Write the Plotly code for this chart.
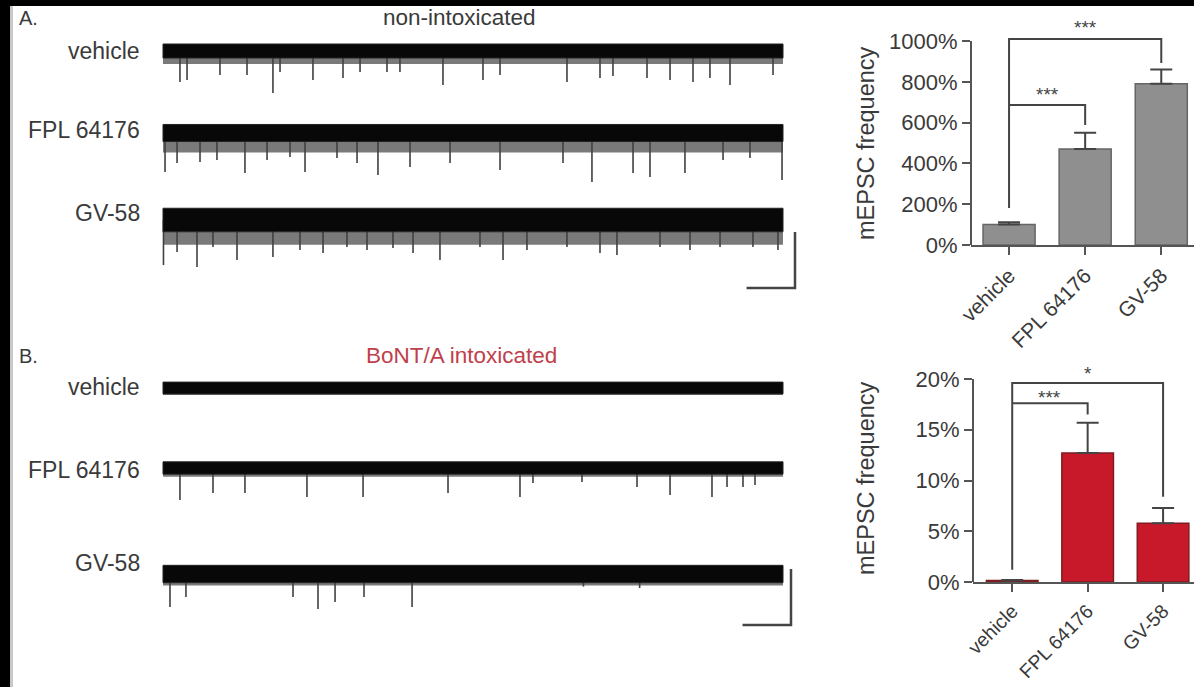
import plotly.graph_objects as go

W, H = 1194, 687

TRACE_NAMES = ["vehicle", "FPL 64176", "GV-58"]
T_END = 64          # s of recording shown per trace
SCALE_S = 5         # scale bar, s
SCALE_PA = 20       # scale bar, pA

# baseline noise band (pA peak-to-peak) and the dense small-event fringe under it (pA)
A_NOISE = [5.0, 6.1, 8.4]
A_FRINGE = [2.1, 3.9, 4.6]
B_NOISE = [4.2, 4.4, 6.2]
B_FRINGE = [0.4, 0.9, 1.0]

# larger mEPSCs: event time (s) and peak amplitude (pA, inward)
A_VEH_T = [1.75, 2.48, 5.88, 8.67, 11.35, 12.08, 15.48, 18.58, 20.34, 23.12, 24.46, 28.90,
           33.03, 34.79, 41.70, 45.11, 46.45, 49.96, 52.34, 54.71, 56.46, 58.53, 62.97]
A_VEH_AMP = [11.1, 10.4, 8.6, 8.6, 15.0, 7.5, 10.4, 9.6, 7.5, 7.5, 7.5, 12.1,
             10.4, 8.6, 11.1, 9.6, 8.9, 9.6, 10.4, 11.1, 9.6, 12.1, 8.6]
A_FPL_T = [0.21, 1.45, 3.82, 5.57, 8.46, 10.74, 13.11, 14.66, 17.96, 20.03, 22.19, 25.50,
           29.63, 34.79, 41.29, 44.28, 48.52, 50.27, 53.88, 57.81, 60.59, 63.9]
A_FPL_AMP = [13.9, 10.7, 10.4, 9.6, 14.3, 9.6, 8.6, 13.9, 8.9, 10.7, 15.0, 12.1,
             10.7, 13.2, 10.7, 17.5, 14.3, 15.7, 14.3, 9.6, 8.9, 16.8]
A_GV_T = [0.05, 1.45, 3.51, 5.16, 7.64, 11.35, 14.14, 16.52, 18.99, 21.06, 23.74, 25.81,
          28.59, 32.72, 35.10, 37.57, 41.70, 45.11, 46.86, 51.30, 54.40, 57.50, 60.90, 63.48]
A_GV_AMP = [16.1, 11.4, 16.8, 9.6, 14.3, 13.2, 10.7, 11.8, 9.6, 10.7, 10.0, 11.8,
            14.3, 9.6, 14.3, 10.7, 9.6, 11.8, 12.5, 9.6, 10.7, 9.6, 9.6, 10.7]

B_VEH_T = []
B_VEH_AMP = []
B_FPL_T = [1.75, 5.16, 8.46, 14.86, 20.65, 29.42, 36.85, 38.19, 43.25, 48.93, 52.34, 56.67,
           58.22, 59.87, 61.11]
B_FPL_AMP = [11.4, 8.9, 8.9, 10.4, 10.4, 8.9, 10.4, 5.4, 5.0, 6.8, 9.6, 10.4, 6.8, 6.8, 6.1]
B_GV_T = [0.72, 2.37, 13.42, 16.00, 17.76, 20.75, 25.71, 43.4, 49.2]
B_GV_AMP = [11.8, 8.2, 8.2, 12.5, 10.0, 8.2, 11.8, 4.5, 5.0]

# mEPSC frequency relative to vehicle (%)
BAR_CATS = ["vehicle", "FPL 64176", "GV-58"]
A_FREQ = [100, 470, 790]
A_SEM = [12, 80, 70]
A_TICKS = [0, 200, 400, 600, 800, 1000]
B_FREQ = [0.15, 12.7, 5.8]
B_SEM = [0.05, 3.0, 1.5]
B_TICKS = [0, 5, 10, 15, 20]


def fx(p):
    return p / W


def fy(p):
    return 1 - p / H


T0_PX, S_PX, PA_PX = 163, 9.6875, 2.8
TXT = "#3a3a3a"
FONT = "Liberation Sans, Arial, sans-serif"

fig = go.Figure()


def add_panel(xa, ya, noise, fringe, events, offsets):
    for k in range(3):
        off = offsets[k]
        top, bot = off + noise[k] / 2, off - noise[k] / 2
        # fringe of small events
        fig.add_trace(go.Scatter(x=[0, T_END, T_END, 0, 0],
                                 y=[bot, bot, bot - fringe[k], bot - fringe[k], bot],
                                 fill="toself", fillcolor="#7a7a7a", line=dict(width=0),
                                 mode="lines", xaxis=xa, yaxis=ya, hoverinfo="skip"))
        # large events
        tt, aa = events[k]
        xs, ys = [], []
        for t, a in zip(tt, aa):
            xs += [t, t, None]
            ys += [off, off - a, None]
        fig.add_trace(go.Scatter(x=xs, y=ys, mode="lines", line=dict(color="#404040", width=1.6),
                                 xaxis=xa, yaxis=ya, hoverinfo="skip"))
        # baseline noise
        fig.add_trace(go.Scatter(x=[0, T_END, T_END, 0, 0], y=[top, top, bot, bot, top],
                                 fill="toself", fillcolor="#080808", line=dict(width=1, color="#222"),
                                 mode="lines", xaxis=xa, yaxis=ya, hoverinfo="skip"))


add_panel("x", "y", A_NOISE, A_FRINGE,
          [(A_VEH_T, A_VEH_AMP), (A_FPL_T, A_FPL_AMP), (A_GV_T, A_GV_AMP)],
          [0, -(133 - 51) / PA_PX, -(220 - 51) / PA_PX])
add_panel("x2", "y2", B_NOISE, B_FRINGE,
          [(B_VEH_T, B_VEH_AMP), (B_FPL_T, B_FPL_AMP), (B_GV_T, B_GV_AMP)],
          [0, -(468 - 388) / PA_PX, -(574 - 388) / PA_PX])

# scale bars
for xa, ya, tx, y0 in [("x", "y", (795 - T0_PX) / S_PX, -(288 - 51) / PA_PX),
                       ("x2", "y2", (791 - T0_PX) / S_PX, -(625 - 388) / PA_PX)]:
    fig.add_trace(go.Scatter(x=[tx - SCALE_S, tx, tx], y=[y0, y0, y0 + SCALE_PA], mode="lines",
                             line=dict(color="#444", width=2.5), xaxis=xa, yaxis=ya,
                             hoverinfo="skip"))

# bar charts
err = dict(type="data", symmetric=False, color="#444", thickness=2, width=11)
fig.add_trace(go.Bar(x=BAR_CATS, y=A_FREQ, xaxis="x3", yaxis="y3",
                     marker=dict(color="#8f8f8f", line=dict(color="#666", width=1.5)),
                     error_y=dict(err, array=A_SEM, arrayminus=[0, 0, 0])))
fig.add_trace(go.Bar(x=BAR_CATS, y=B_FREQ, xaxis="x4", yaxis="y4",
                     marker=dict(color="#c8192b", line=dict(color="#7d1d22", width=1.5)),
                     error_y=dict(err, array=B_SEM, arrayminus=[0, 0, 0])))

trace_x = dict(visible=False, range=[(150 - T0_PX) / S_PX, (810 - T0_PX) / S_PX],
               domain=[fx(150), fx(810)])
fig.update_layout(
    xaxis=dict(trace_x),
    yaxis=dict(visible=False, domain=[fy(300), fy(15)],
               range=[-(300 - 51) / PA_PX, (51 - 15) / PA_PX]),
    xaxis2=dict(trace_x, anchor="y2"),
    yaxis2=dict(visible=False, domain=[fy(640), fy(365)], anchor="x2",
                range=[-(640 - 388) / PA_PX, (388 - 365) / PA_PX]),
)

bar_x = dict(showline=True, linecolor="#555", linewidth=2, ticks="outside", ticklen=8,
             tickwidth=2, tickcolor="#555", tickangle=-45,
             tickfont=dict(size=21, color=TXT, family=FONT))
bar_y = dict(showline=False, showgrid=False, zeroline=False, ticks="outside", ticklen=8,
             tickwidth=2, tickcolor="#555",
             tickfont=dict(size=22, color=TXT, family=FONT))
fig.update_layout(
    xaxis3=dict(bar_x, domain=[fx(971), 1], range=[-0.5, 2.43], anchor="y3"),
    yaxis3=dict(bar_y, domain=[fy(245), fy(10)], range=[0, (245 - 10) / 0.204], anchor="x3",
                tickvals=A_TICKS, ticktext=[f"{v}%" for v in A_TICKS]),
    xaxis4=dict(bar_x, domain=[fx(973), 1], range=[-0.52, 2.41], anchor="y4",
                tickfont=dict(size=19.5, color=TXT, family=FONT)),
    yaxis4=dict(bar_y, domain=[fy(582), fy(345)], range=[0, (582 - 345) / 10.15], anchor="x4",
                tickvals=B_TICKS, ticktext=[f"{v}%" for v in B_TICKS]),
    bargap=0.316,
)

shapes = [
    # black scan border at top and left
    dict(type="rect", xref="paper", yref="paper", x0=0, x1=1, y0=fy(6), y1=1,
         fillcolor="black", line_width=0, layer="below"),
    dict(type="rect", xref="paper", yref="paper", x0=0, x1=fx(10), y0=0, y1=1,
         fillcolor="black", line_width=0, layer="below"),
    dict(type="rect", xref="paper", yref="paper", x0=fx(10), x1=fx(13), y0=0, y1=fy(6),
         fillcolor="#c8c8c8", line_width=0, layer="below"),
    # y axis lines of the bar charts (stop at top tick)
    dict(type="line", xref="x3 domain", yref="y3", x0=0, x1=0, y0=0, y1=A_TICKS[-1],
         line=dict(color="#555", width=2)),
    dict(type="line", xref="x4 domain", yref="y4", x0=0, x1=0, y0=0, y1=B_TICKS[-1],
         line=dict(color="#555", width=2)),
]


def bracket(xa, ya, i, j, top, foot_i, foot_j):
    return dict(type="path", xref=xa, yref=ya,
                path=f"M {i},{foot_i} L {i},{top} L {j},{top} L {j},{foot_j}",
                line=dict(color="#444", width=2))


shapes += [
    bracket("x3", "y3", 0, 2, 1010, 181, 892),
    bracket("x3", "y3", 0, 1, 686, 686, 588),
    bracket("x4", "y4", 0, 2, 19.6, 1.2, 8.4),
    bracket("x4", "y4", 0, 1, 17.6, 17.6, 16.5),
]


def txt(x, y, s, size=23, color=TXT, xanchor="center", **kw):
    return dict(x=fx(x), y=fy(y), xref="paper", yref="paper", text=s, showarrow=False,
                xanchor=xanchor, yanchor="middle", font=dict(size=size, color=color, family=FONT),
                **kw)


ann = [
    txt(17, 18, "A.", 20, xanchor="left"),
    txt(459, 17, "non-intoxicated", 22.5),
    txt(17, 356, "B.", 20, xanchor="left"),
    txt(461, 355, "BoNT/A intoxicated", 22.5, color="#c0404c"),
    txt(866, 143, "mEPSC frequency", 23.5, textangle=-90),
    txt(866, 478, "mEPSC frequency", 23.5, textangle=-90),
]
for name, ya, yb in zip(TRACE_NAMES, [51, 130, 213], [387, 470, 563]):
    ann.append(txt(142, ya, name, 23, xanchor="right"))
    ann.append(txt(142, yb, name, 23, xanchor="right"))

for xa, ya, x, y, s in [("x3", "y3", 1, 1065, "***"), ("x3", "y3", 0.5, 738, "***"),
                        ("x4", "y4", 1, 20.5, "*"), ("x4", "y4", 0.5, 18.2, "***")]:
    ann.append(dict(x=x, y=y, xref=xa, yref=ya, text=s, showarrow=False,
                    font=dict(size=19, color="#444", family=FONT)))

fig.update_layout(
    width=W, height=H, margin=dict(l=0, r=0, t=0, b=0, autoexpand=False),
    paper_bgcolor="white", plot_bgcolor="rgba(0,0,0,0)",
    showlegend=False, shapes=shapes, annotations=ann,
    font=dict(family=FONT, color=TXT),
)

fig.write_html("out.html", config={"displayModeBar": False},
               post_script="document.body.style.margin='0';")
